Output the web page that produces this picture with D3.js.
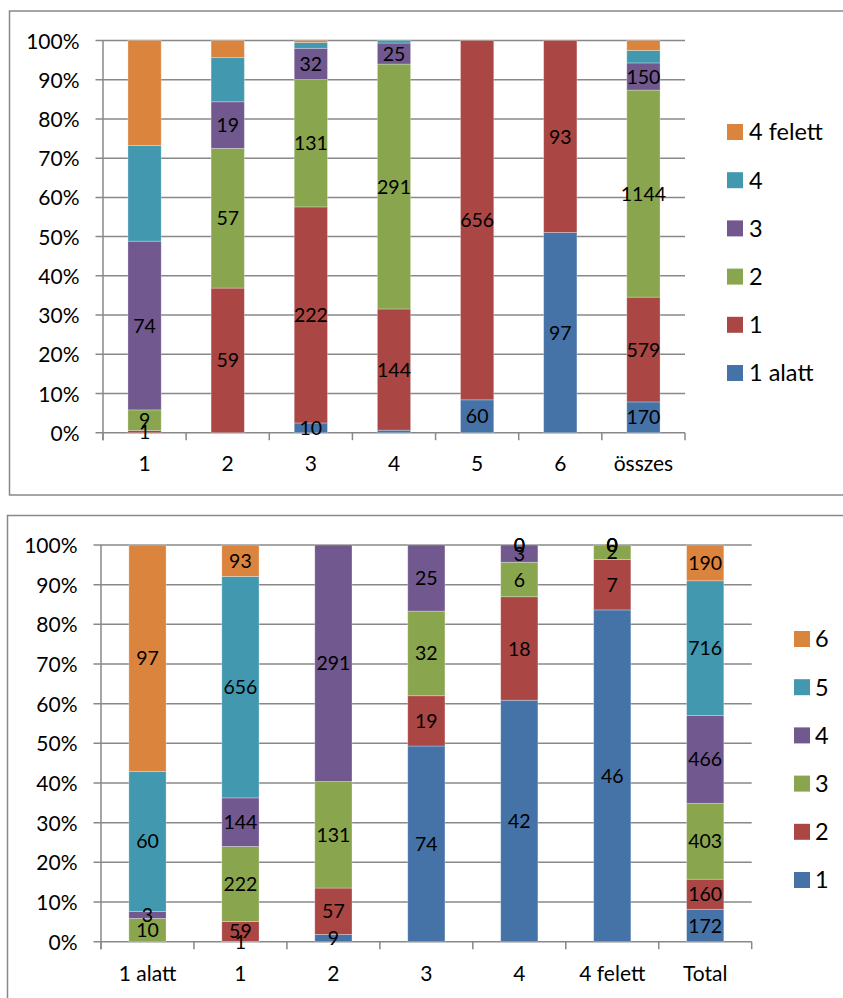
<!DOCTYPE html>
<html>
<head>
<meta charset="utf-8">
<script src="https://cdn.jsdelivr.net/npm/d3@7"></script>
<style>
  html, body { margin: 0; padding: 0; background: #fff; }
  svg { display: block; }
  text { font-family: Lato, "Open Sans", sans-serif; fill: #000; }
</style>
</head>
<body>
<svg id="chart" width="843" height="998"></svg>
<script>
// ---------- Data: top chart ----------
const topCategories = ["1", "2", "3", "4", "5", "6", "összes"];
const topSeries = ["1 alatt", "1", "2", "3", "4", "4 felett"];
const topAlatt1 = [null, null, 10, 3, 60, 97, 170];
const topS1 = [1, 59, 222, 144, 656, 93, 579];
const topS2 = [9, 57, 131, 291, null, null, 1144];
const topS3 = [74, 19, 32, 25, null, null, 150];
const topS4 = [42, 18, 6, 3, null, null, 69];
const topFelett4 = [46, 7, 2, null, null, null, 55];
const topLabelSeries = ["1 alatt", "1", "2", "3"];
const topHiddenLabels = [["1 alatt", "4"]];

// ---------- Data: bottom chart ----------
const bottomCategories = ["1 alatt", "1", "2", "3", "4", "4 felett", "Total"];
const bottomSeries = ["1", "2", "3", "4", "5", "6"];
const botS1 = [null, 1, 9, 74, 42, 46, 172];
const botS2 = [null, 59, 57, 19, 18, 7, 160];
const botS3 = [10, 222, 131, 32, 6, 2, 403];
const botS4 = [3, 144, 291, 25, 3, 0, 466];
const botS5 = [60, 656, null, null, 0, 0, 716];
const botS6 = [97, 93, null, null, 0, 0, 190];
const bottomLabelSeries = ["1", "2", "3", "4", "5", "6"];
const bottomHiddenLabels = [];

const yTicks = [0, 0.1, 0.2, 0.3, 0.4, 0.5, 0.6, 0.7, 0.8, 0.9, 1.0];
const colors = ["#4572A7", "#AA4643", "#89A54E", "#71588F", "#4198AF", "#DB843D"];

const svg = d3.select("#chart");
const gridColor = "#888888";

function drawChart(cfg) {
  const { categories, series, values, labelSeries, hidden, frame, plot, legend } = cfg;
  svg.append("rect")
    .attr("x", frame.x).attr("y", frame.y)
    .attr("width", frame.w).attr("height", frame.h)
    .attr("fill", "none").attr("stroke", gridColor).attr("stroke-width", 1.5);

  const rows = categories.map((c, i) => {
    const r = { cat: c };
    series.forEach((s, j) => { r[s] = values[j][i]; });
    return r;
  });
  const stack = d3.stack()
    .keys(series)
    .value((d, k) => d[k] == null ? 0 : d[k])
    .offset(d3.stackOffsetExpand);
  const layers = stack(rows);

  const x = d3.scaleBand().domain(categories).range([plot.x0, plot.x1])
    .paddingInner(0.6).paddingOuter(0.3);
  const y = d3.scaleLinear().domain([0, 1]).range([plot.y1, plot.y0]);
  const color = d3.scaleOrdinal().domain(series).range(colors);

  const g = svg.append("g");

  g.append("g").selectAll("line").data(yTicks).join("line")
    .attr("x1", plot.x0 - 7.5).attr("x2", plot.x1)
    .attr("y1", d => y(d)).attr("y2", d => y(d))
    .attr("stroke", gridColor).attr("stroke-width", 1.5);

  g.append("line")
    .attr("x1", plot.x0).attr("x2", plot.x0)
    .attr("y1", y(1)).attr("y2", y(0) + 7.5)
    .attr("stroke", gridColor).attr("stroke-width", 1.5);

  const step = x.step();
  const bounds = d3.range(categories.length + 1).map(i => plot.x0 + i * step);
  g.append("g").selectAll("line").data(bounds).join("line")
    .attr("x1", d => d).attr("x2", d => d)
    .attr("y1", y(0)).attr("y2", y(0) + 7.5)
    .attr("stroke", gridColor).attr("stroke-width", 1.5);

  const yAxis = d3.axisLeft(y).tickValues(yTicks).tickFormat(d3.format(".0%"))
    .tickSize(0).tickPadding(0);
  const ya = g.append("g").attr("transform", `translate(${plot.labelRight},0)`).call(yAxis);
  ya.select(".domain").remove();
  ya.selectAll("text").attr("font-size", 21).attr("font-family", "Lato").attr("fill", "#000").attr("dy", "0.36em");

  const xAxis = d3.axisBottom(x).tickSize(0).tickPadding(0);
  const xa = g.append("g").attr("transform", `translate(0,${plot.catY})`).call(xAxis);
  xa.select(".domain").remove();
  xa.selectAll("text").attr("font-size", 21).attr("font-family", "Lato").attr("fill", "#000").attr("dy", "0.36em");

  const lg = g.append("g").selectAll("g").data(layers).join("g")
    .attr("fill", d => color(d.key));
  lg.selectAll("rect").data(d => d.map(v => ({ v, key: d.key }))).join("rect")
    .attr("x", d => x(d.v.data.cat))
    .attr("width", x.bandwidth())
    .attr("y", d => y(d.v[1]))
    .attr("height", d => Math.max(0, y(d.v[0]) - y(d.v[1])))
    .attr("stroke", "#ffffff").attr("stroke-opacity", 0.35).attr("stroke-width", 0.8);

  const labG = g.append("g");
  layers.forEach(layer => {
    if (!labelSeries.includes(layer.key)) return;
    layer.forEach(v => {
      const val = v.data[layer.key];
      if (val == null) return;
      if (hidden.some(h => h[0] === layer.key && h[1] === v.data.cat)) return;
      labG.append("text")
        .attr("x", x(v.data.cat) + x.bandwidth() / 2)
        .attr("y", y((v[0] + v[1]) / 2))
        .attr("dy", "0.36em")
        .attr("text-anchor", "middle")
        .attr("font-size", 19.5)
        .text(val);
    });
  });

  const legItems = series.slice().reverse();
  const leg = g.append("g").selectAll("g").data(legItems).join("g")
    .attr("transform", (d, i) => `translate(${legend.x},${legend.y0 + i * legend.dy})`);
  leg.append("rect").attr("x", 0).attr("y", -8).attr("width", 16).attr("height", 16)
    .attr("fill", d => color(d));
  leg.append("text").attr("x", legend.tx).attr("y", 0).attr("dy", "0.36em")
    .attr("font-size", 23.5).text(d => d);
}

drawChart({
  categories: topCategories,
  series: topSeries,
  values: [topAlatt1, topS1, topS2, topS3, topS4, topFelett4],
  labelSeries: topLabelSeries,
  hidden: topHiddenLabels,
  frame: { x: 9.5, y: 11, w: 900, h: 484 },
  plot: { x0: 103, x1: 685, y0: 40.5, y1: 432.7, labelRight: 79.5, catY: 463 },
  legend: { x: 727, tx: 22, y0: 132, dy: 48.2 }
});

drawChart({
  categories: bottomCategories,
  series: bottomSeries,
  values: [botS1, botS2, botS3, botS4, botS5, botS6],
  labelSeries: bottomLabelSeries,
  hidden: bottomHiddenLabels,
  frame: { x: 7.5, y: 515.5, w: 900, h: 600 },
  plot: { x0: 101, x1: 751.7, y0: 545, y1: 941.7, labelRight: 77.5, catY: 973 },
  legend: { x: 794, tx: 21, y0: 639, dy: 48.2 }
});
</script>
</body>
</html>
